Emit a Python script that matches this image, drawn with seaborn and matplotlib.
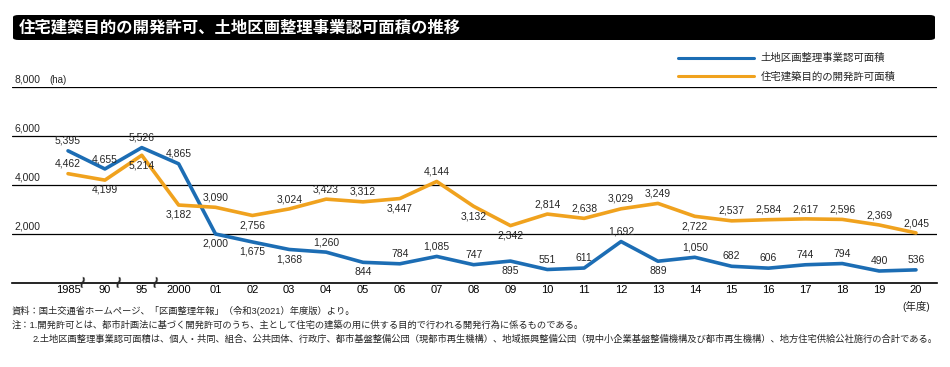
import pandas as pd
import seaborn as sns
import matplotlib.pyplot as plt
from matplotlib.patches import FancyBboxPatch
from matplotlib.lines import Line2D

years = ['1985', '90', '95', '2000', '01', '02', '03', '04', '05', '06', '07', '08',
         '09', '10', '11', '12', '13', '14', '15', '16', '17', '18', '19', '20']
kukaku = [5395, 4655, 5526, 4865, 2000, 1675, 1368, 1260, 844, 784, 1085, 747,
          895, 551, 611, 1692, 889, 1050, 682, 606, 744, 794, 490, 536]
kaihatsu = [4462, 4199, 5214, 3182, 3090, 2756, 3024, 3423, 3312, 3447, 4144, 3132,
            2342, 2814, 2638, 3029, 3249, 2722, 2537, 2584, 2617, 2596, 2369, 2045]
name_kukaku = '土地区画整理事業認可面積'
name_kaihatsu = '住宅建築目的の開発許可面積'
y_ticks = [2000, 4000, 6000, 8000]

# label above (1) or below (-1) the point
pos_kukaku = [1, 1, 1, 1, -1, -1, -1, 1, -1, 1, 1, 1, -1, 1, 1, 1, -1, 1, 1, 1, 1, 1, 1, 1]
pos_kaihatsu = [1, -1, -1, -1, 1, -1, 1, 1, 1, -1, 1, -1, -1, 1, 1, 1, 1, -1, 1, 1, 1, 1, 1, 1]

sns.set_style('white')
plt.rcParams['font.family'] = ['Liberation Sans', 'Noto Sans CJK JP']

df = pd.DataFrame({
    'x': list(range(len(years))) * 2,
    'value': kukaku + kaihatsu,
    'series': [name_kukaku] * len(years) + [name_kaihatsu] * len(years),
})
colors = {name_kukaku: '#1c6db4', name_kaihatsu: '#f0a21e'}

fig = plt.figure(figsize=(9.5, 3.67), dpi=100)
ax = fig.add_axes([12 / 950, (367 - 283) / 367, 925 / 950, 196 / 367])

sns.lineplot(data=df, x='x', y='value', hue='series', palette=colors,
             linewidth=2.6, ax=ax, legend=False)

ax.set_xlim(-1.52, 23.57)
ax.set_ylim(0, 8000)
for s in ['top', 'right', 'left']:
    ax.spines[s].set_visible(False)
ax.spines['bottom'].set_linewidth(1.2)
ax.spines['bottom'].set_color('black')
for v in y_ticks:
    ax.axhline(v, color='black', lw=0.9, zorder=0)

ax.set_xticks(range(len(years)))
ax.set_xticklabels(years, fontsize=8)
ax.tick_params(axis='x', direction='in', length=3, width=0.8, pad=1.5, colors='black')
ax.set_yticks([])
ax.set_xlabel('')
ax.set_ylabel('')

# y labels sitting on the gridlines
for v in y_ticks:
    ax.annotate(f'{v:,}', xy=(0.003, v), xycoords=('axes fraction', 'data'),
                xytext=(0, 1.5), textcoords='offset points',
                fontsize=7.5, va='bottom', ha='left')
ax.annotate('(ha)', xy=(0.003, 8000), xycoords=('axes fraction', 'data'),
            xytext=(25, 1.5), textcoords='offset points',
            fontsize=7, va='bottom', ha='left')

# data labels
for vals, pos in [(kukaku, pos_kukaku), (kaihatsu, pos_kaihatsu)]:
    for i, (v, p) in enumerate(zip(vals, pos)):
        ax.annotate(f'{v:,}', xy=(i, v), xytext=(0, 3.5 * p), textcoords='offset points',
                    ha='center', va='bottom' if p > 0 else 'top', fontsize=7.5)

# break marks on the axis
for bx in [0.38, 1.36, 2.36]:
    ax.text(bx, 0, '≀', fontsize=12, family='DejaVu Sans', weight='bold',
            ha='center', va='center', rotation=-15, clip_on=False)

ax.annotate('(年度)', xy=(23, 0), xytext=(0, -13), textcoords='offset points',
            ha='center', va='top', fontsize=7.5)

# legend
handles = [Line2D([0], [0], color=colors[name_kukaku], lw=2.2),
           Line2D([0], [0], color=colors[name_kaihatsu], lw=2.2)]
fig.legend(handles, [name_kukaku, name_kaihatsu], loc='upper left',
           bbox_to_anchor=(669 / 950, 1 - 44 / 367), frameon=False, fontsize=7.5,
           handlelength=7.3, handletextpad=0.6, labelspacing=0.75)

# title bar
bar = FancyBboxPatch((13 / 950, 1 - 40 / 367), 922 / 950, 25 / 367,
                     boxstyle='round,pad=0,rounding_size=0.006',
                     transform=fig.transFigure, facecolor='black', edgecolor='none')
fig.patches.append(bar)
fig.text(19 / 950, 1 - 27.5 / 367, '住宅建築目的の開発許可、土地区画整理事業認可面積の推移',
         color='white', fontsize=11.8, weight='bold', va='center', ha='left',
         family=['Noto Sans CJK JP'])

# notes
notes = [
    (12, 311, '資料：国土交通省ホームページ、「区画整理年報」（令和3(2021）年度版）より。'),
    (12, 325, '注：1.開発許可とは、都市計画法に基づく開発許可のうち、主として住宅の建築の用に供する目的で行われる開発行為に係るものである。'),
    (33, 339, '2.土地区画整理事業認可面積は、個人・共同、組合、公共団体、行政庁、都市基盤整備公団（現都市再生機構）、地域振興整備公団（現中小企業基盤整備機構及び都市再生機構）、地方住宅供給公社施行の合計である。'),
]
for nx, ny, t in notes:
    fig.text(nx / 950, 1 - ny / 367, t, fontsize=6.7, va='center', ha='left')

fig.savefig('out.png', dpi=100)
